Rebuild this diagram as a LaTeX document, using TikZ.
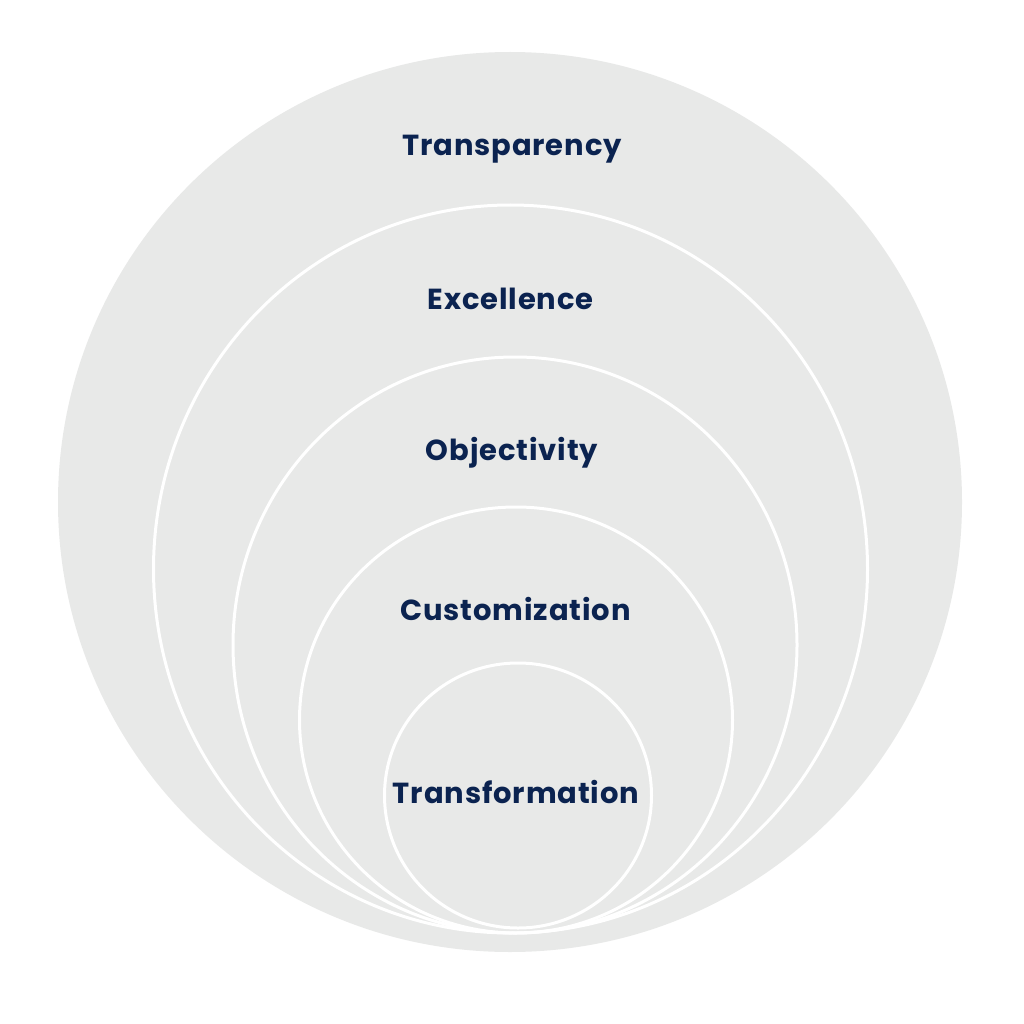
\documentclass[tikz,border=0pt]{standalone}
\usepackage{fontspec}
\setmainfont{Poppins}[UprightFont=* Bold]
\definecolor{discfill}{HTML}{E8E9E8}
\definecolor{navy}{HTML}{0B2350}
\tikzset{
  ring/.style={draw=white, line width=3pt},
  label/.style={text=navy, anchor=base, inner sep=0pt, font=\fontsize{29}{35}\selectfont\addfontfeatures{LetterSpace=3}}
}
\begin{document}
\begin{tikzpicture}[x=1pt,y=-1pt]
\useasboundingbox (0,0) rectangle (1024,1024);
\fill[white] (0,0) rectangle (1024,1024);
\fill[discfill] (510,502) ellipse [x radius=452pt, y radius=450pt];
\draw[ring] (510.5,569) ellipse [x radius=357pt, y radius=364pt];
\draw[ring] (515,645) ellipse [x radius=282pt, y radius=288pt];
\draw[ring] (516,720) ellipse [x radius=216.5pt, y radius=213pt];
\draw[ring] (518,795.5) ellipse [x radius=133.5pt, y radius=132.5pt];
\node[label] (t1) at (512,156) {Transparency};
\node[label] (t2) at (510.5,309) {Excellence};
\node[label] (t3) at (512,460) {Objectivity};
\node[label] (t4) at (515.5,620) {Customization};
\node[label] (t5) at (516,803) {Transformation};
\end{tikzpicture}
\end{document}
